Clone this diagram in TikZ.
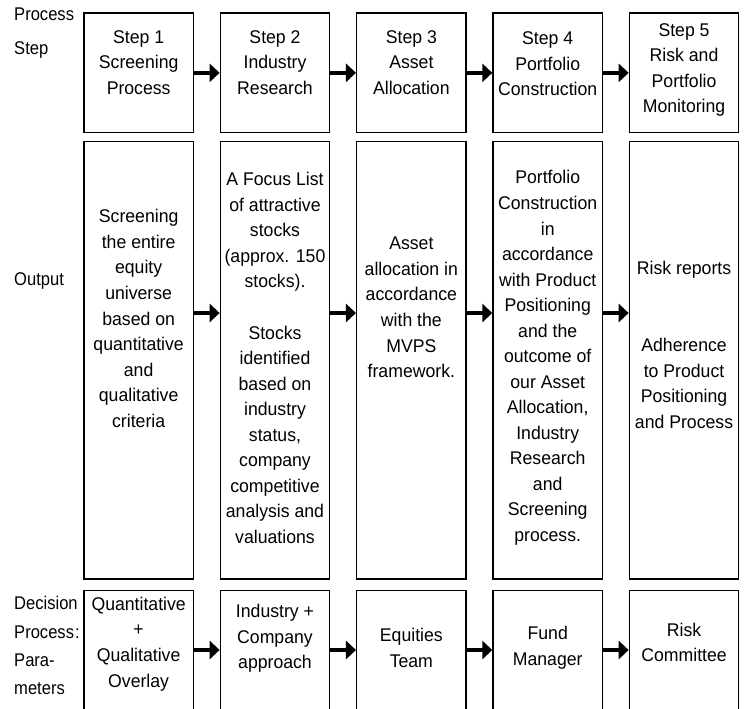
\documentclass[tikz,border=0pt]{standalone}
\usepackage{fontspec}
\setmainfont{Liberation Sans}[FakeStretch=0.96]
\newfontfamily\sidefont{Liberation Sans}[FakeStretch=0.9]
\usepackage{tikz}
\usetikzlibrary{arrows.meta}

\tikzset{
  box/.style={draw, line width=1.1pt, minimum width=3.285cm, inner sep=0pt},
  txt/.style={align=center, inner sep=0pt, font=\fontsize{15.7pt}{21.8pt}\selectfont},
  side/.style={align=left, anchor=west, inner sep=0pt, font=\sidefont\fontsize{15.7pt}{21.8pt}\selectfont},
  flow/.style={line width=3.8pt, -{Triangle[length=8.5pt,width=15.4pt]}},
}

\begin{document}
\begin{tikzpicture}[x=0.03cm,y=-0.03cm]
\useasboundingbox (0,0) rectangle (745,709);

% row labels
\node [side, font=\sidefont\fontsize{15.7pt}{29pt}\selectfont] (lstep) at (14,33.5) {Process\\Step};
\node [side] (lout) at (14,280.7) {Output};
\node [side, font=\sidefont\fontsize{15.7pt}{24.2pt}\selectfont] (ldec) at (14,645.8) {Decision\\Process\kern1pt:\\Para-\\meters};

% step row
\node [box, minimum height=3.591cm] (s1) at (138.65,72.85) {};
\node [box, minimum height=3.591cm] (s2) at (275,72.85) {};
\node [box, minimum height=3.591cm] (s3) at (411.35,72.85) {};
\node [box, minimum height=3.591cm] (s4) at (547.7,72.85) {};
\node [box, minimum height=3.591cm] (s5) at (684.05,72.85) {};
\node [txt] (s1t) at (138.65,62.3) {Step 1\\Screening\\Process};
\node [txt] (s2t) at (275,62.3) {Step 2\\Industry\\Research};
\node [txt] (s3t) at (411.35,62.5) {Step 3\\Asset\\Allocation};
\node [txt] (s4t) at (547.7,64) {Step 4\\Portfolio\\Construction};
\node [txt] (s5t) at (684.05,70) {Step 5\\Risk and\\Portfolio\\Monitoring};
\draw [flow] (s1) -- (s2);
\draw [flow] (s2) -- (s3);
\draw [flow] (s3) -- (s4);
\draw [flow] (s4) -- (s5);

% output row
\node [box, minimum height=13.119cm] (o1) at (138.65,360.35) {};
\node [box, minimum height=13.119cm] (o2) at (275,360.35) {};
\node [box, minimum height=13.119cm] (o3) at (411.35,360.35) {};
\node [box, minimum height=13.119cm] (o4) at (547.7,360.35) {};
\node [box, minimum height=13.119cm] (o5) at (684.05,360.35) {};
\node [txt] (o1t) at (138.65,318.5) {Screening\\the entire\\equity\\universe\\based on\\quantitative\\and\\qualitative\\criteria};
\node [txt] (o2t) at (275,358) {A Focus List\\of attractive\\stocks\\(approx. 150\\stocks).\\[21.8pt]
Stocks\\identified\\based on\\industry\\status,\\company\\competitive\\analysis and\\valuations};
\node [txt] (o3t) at (411.35,307.5) {Asset\\allocation in\\accordance\\with the\\MVPS\\framework.};
\node [txt] (o4t) at (547.7,358) {Portfolio\\Construction\\in\\accordance\\with Product\\Positioning\\and the\\outcome of\\our Asset\\Allocation,\\Industry\\Research\\and\\Screening\\process.};
\node [txt] (o5t) at (684.05,345) {Risk reports\\[43.6pt]Adherence\\to Product\\Positioning\\and Process};
\draw [flow] ([yshift=1.42cm]o1.east) -- ([yshift=1.42cm]o2.west);
\draw [flow] ([yshift=1.42cm]o2.east) -- ([yshift=1.42cm]o3.west);
\draw [flow] ([yshift=1.42cm]o3.east) -- ([yshift=1.42cm]o4.west);
\draw [flow] ([yshift=1.42cm]o4.east) -- ([yshift=1.42cm]o5.west);

% decision row
\node [box, minimum height=3.879cm] (d1) at (138.65,655.35) {};
\node [box, minimum height=3.879cm] (d2) at (275,655.35) {};
\node [box, minimum height=3.879cm] (d3) at (411.35,655.35) {};
\node [box, minimum height=3.879cm] (d4) at (547.7,655.35) {};
\node [box, minimum height=3.879cm] (d5) at (684.05,655.35) {};
\node [txt] (d1t) at (138.65,644) {Quantitative\\+\\Qualitative\\Overlay};
\node [txt] (d2t) at (275,638.3) {Industry +\\Company\\approach};
\node [txt] (d3t) at (411.35,648) {Equities\\Team};
\node [txt] (d4t) at (547.7,648) {Fund\\Manager};
\node [txt] (d5t) at (684.05,642.5) {Risk\\Committee};
\draw [flow] ([yshift=0.16cm]d1.east) -- ([yshift=0.16cm]d2.west);
\draw [flow] ([yshift=0.16cm]d2.east) -- ([yshift=0.16cm]d3.west);
\draw [flow] ([yshift=0.16cm]d3.east) -- ([yshift=0.16cm]d4.west);
\draw [flow] ([yshift=0.16cm]d4.east) -- ([yshift=0.16cm]d5.west);

\end{tikzpicture}
\end{document}
